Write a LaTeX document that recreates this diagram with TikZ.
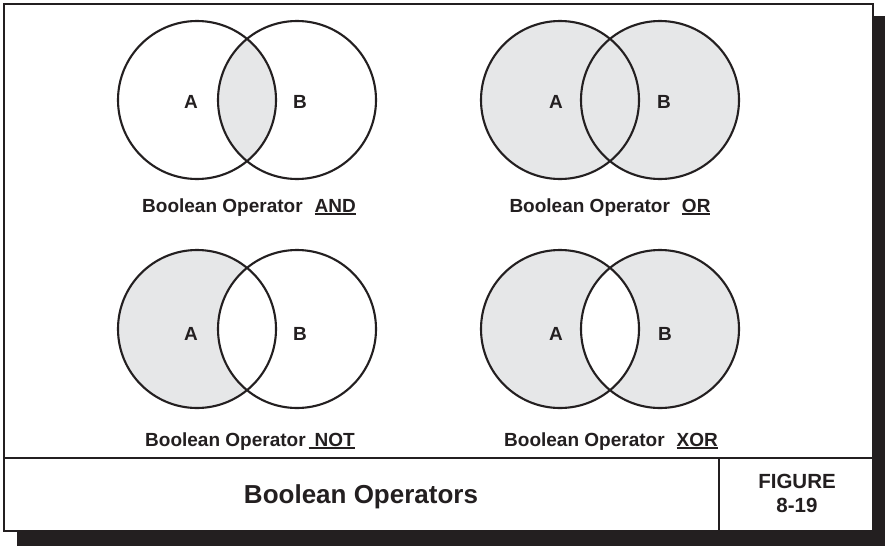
\documentclass[tikz,border=0pt]{standalone}
\usepackage{fontspec}
\setmainfont{Liberation Sans}
\usepackage{tikz}
\definecolor{ink}{HTML}{231F20}
\definecolor{shade}{HTML}{E6E7E8}
\newcommand{\opul}[1]{\setbox0\hbox{#1}\rlap{\rule[-2.8pt]{\wd0}{1.8pt}}\box0}

\begin{document}
\begin{tikzpicture}[
  x=1pt, y=-1pt,
  venn/.style={draw=ink, line width=2.1pt},
  region/.style={fill=shade},
  setlabel/.style={anchor=base, text=ink, font=\bfseries\fontsize{19}{21}\selectfont},
  caption/.style={anchor=base, text=ink, font=\bfseries\fontsize{19}{22}\selectfont},
  divider/.style={draw=ink, line width=1.3pt},
]
\useasboundingbox (0,0) rectangle (885,546);

% Frame with shadow
\fill[ink] (17,16) rectangle (885,546);
\draw[ink, fill=white, line width=2.2pt] (4,4) rectangle (873,531);

% Set centres
\coordinate (andA) at (197,100);
\coordinate (andB) at (297,100);
\coordinate (orA) at (560,100);
\coordinate (orB) at (660,100);
\coordinate (notA) at (197,329);
\coordinate (notB) at (297,329);
\coordinate (xorA) at (560,329);
\coordinate (xorB) at (660,329);

% Shaded regions
\begin{scope}
  \clip (andA) circle (79);
  \fill[region] (andB) circle (79);
\end{scope}
\fill[region] (orA) circle (79) (orB) circle (79);
\fill[region] (notA) circle (79);
\fill[white] (notB) circle (79);
\fill[region, even odd rule] (xorA) circle (79) (xorB) circle (79);

% Circles
\draw[venn] (andA) circle (79) (andB) circle (79);
\draw[venn] (orA) circle (79) (orB) circle (79);
\draw[venn] (notA) circle (79) (notB) circle (79);
\draw[venn] (xorA) circle (79) (xorB) circle (79);

% Set labels
\node[setlabel] (andAlbl) at (191,108) {A};
\node[setlabel] (andBlbl) at (300,108) {B};
\node[setlabel] (orAlbl) at (556,108) {A};
\node[setlabel] (orBlbl) at (664,108) {B};
\node[setlabel] (notAlbl) at (191,340) {A};
\node[setlabel] (notBlbl) at (300,340) {B};
\node[setlabel] (xorAlbl) at (556,340) {A};
\node[setlabel] (xorBlbl) at (665,340) {B};

% Captions
\node[caption] (andcap) at (249,212) {Boolean Operator\hspace{12pt}\opul{AND}};
\node[caption] (orcap) at (610,212) {Boolean Operator\hspace{12pt}\opul{OR}};
\node[caption] (notcap) at (250,446) {Boolean Operator\hspace{3pt}\opul{\hspace{6pt}NOT}};
\node[caption] (xorcap) at (611,446) {Boolean Operator\hspace{12pt}\opul{XOR}};

% Title block
\draw[divider] (4,458) -- (873,458);
\draw[divider] (719,458) -- (719,531);
\node[anchor=base, text=ink, font=\bfseries\fontsize{26}{30}\selectfont] (title) at (361,503) {Boolean Operators};
\node[anchor=base, text=ink, font=\bfseries\fontsize{20.5}{24}\selectfont] (figword) at (797,488) {FIGURE};
\node[anchor=base, text=ink, font=\bfseries\fontsize{20.5}{24}\selectfont] (fignum) at (797,512) {8-19};

\end{tikzpicture}
\end{document}
